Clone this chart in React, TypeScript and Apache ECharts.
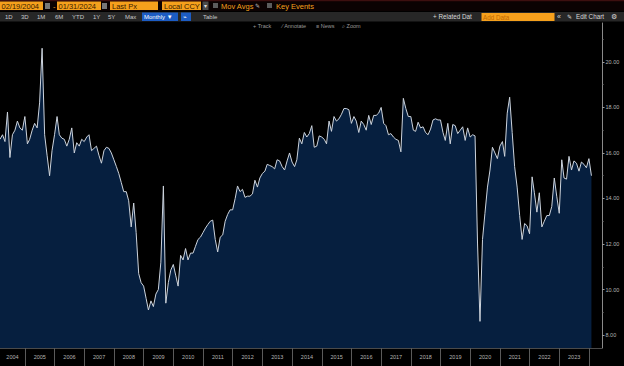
import React, { useEffect, useRef } from "react";
import * as echarts from "echarts";

// Monthly series, first point = Feb 2004, last point = Jan 2024
const startYear = 2004;
const startMonthIndex = 1; // 0-based: 1 = February
const values2004 = [16.6, 16.8, 16.5, 17.8, 15.8, 16.8, 17.0, 17.4, 17.1, 17.0, 17.6];
const values2005 = [16.4, 16.6, 17.0, 17.3, 17.1, 18.2, 20.6, 16.8, 15.9, 15.0, 16.1, 16.8];
const values2006 = [17.6, 16.8, 16.65, 16.6, 16.3, 16.6, 17.1, 16.0, 16.45, 16.3, 16.6, 16.5];
const values2007 = [16.7, 16.8, 16.1, 16.2, 16.3, 15.9, 15.55, 16.1, 16.25, 16.2, 16.0, 15.7];
const values2008 = [15.4, 15.1, 14.7, 14.3, 14.3, 13.9, 12.75, 13.8, 12.5, 10.7, 10.3, 10.15];
const values2009 = [9.6, 9.1, 9.5, 9.25, 9.8, 10.0, 11.2, 14.55, 9.4, 10.3, 10.85, 11.1];
const values2010 = [10.6, 10.15, 11.5, 11.3, 11.8, 11.3, 11.6, 11.6, 11.9, 12.2, 12.3, 12.5];
const values2011 = [12.7, 12.85, 13.0, 13.05, 12.2, 11.65, 12.3, 12.4, 13.0, 13.3, 13.5, 13.5];
const values2012 = [14.0, 14.55, 14.3, 14.4, 14.05, 14.1, 14.1, 14.2, 14.8, 14.5, 14.9, 15.1];
const values2013 = [15.2, 15.5, 15.45, 15.4, 15.3, 15.7, 15.65, 15.4, 15.25, 15.65, 16.0, 15.6];
const values2014 = [15.4, 15.7, 16.65, 16.4, 16.9, 16.7, 16.85, 17.2, 16.25, 16.3, 16.75, 16.7];
const values2015 = [16.6, 16.4, 17.4, 16.95, 17.6, 17.4, 17.5, 17.7, 17.95, 17.95, 17.9, 17.3];
const values2016 = [17.6, 17.4, 16.9, 17.4, 17.25, 17.0, 17.65, 17.25, 17.65, 17.65, 17.75, 18.0];
const values2017 = [17.3, 17.2, 16.8, 16.85, 16.7, 16.6, 16.55, 16.05, 18.4, 17.95, 17.6, 17.6];
const values2018 = [17.0, 16.95, 17.35, 17.1, 17.15, 16.9, 16.8, 17.05, 17.45, 17.5, 17.45, 17.45];
const values2019 = [16.9, 16.55, 17.3, 16.4, 17.25, 17.2, 16.85, 17.0, 17.15, 16.55, 17.1, 16.7];
const values2020 = [16.8, 16.75, 12.0, 8.6, 12.2, 13.35, 14.5, 15.25, 16.25, 16.0, 15.75, 16.3];
const values2021 = [16.5, 15.85, 17.75, 18.45, 16.9, 15.4, 14.5, 13.25, 12.2, 12.9, 12.8, 12.45];
const values2022 = [14.95, 14.25, 13.4, 14.25, 12.75, 13.0, 13.25, 13.25, 13.65, 14.9, 14.1, 13.35];
const values2023 = [15.7, 14.9, 14.85, 15.85, 15.25, 15.65, 15.55, 15.2, 15.6, 15.5, 15.35, 15.75];
const values2024 = [15.0];

const allValues = [
  ...values2004, ...values2005, ...values2006, ...values2007, ...values2008,
  ...values2009, ...values2010, ...values2011, ...values2012, ...values2013,
  ...values2014, ...values2015, ...values2016, ...values2017, ...values2018,
  ...values2019, ...values2020, ...values2021, ...values2022, ...values2023,
  ...values2024,
];

const yearLabels = [2004, 2005, 2006, 2007, 2008, 2009, 2010, 2011, 2012, 2013, 2014, 2015, 2016, 2017, 2018, 2019, 2020, 2021, 2022, 2023];
const yMajorTicks = [8, 10, 12, 14, 16, 18, 20];
const yMinorTicks = [9, 11, 13, 15, 17, 19, 21];

const X_MIN = Date.UTC(2004, 1, 29);
const X_MAX = Date.UTC(2024, 5, 9);
const Y_MIN = 7.43;
const Y_MAX = 21.71;

const seriesData = allValues.map((v, k) => {
  const m = startMonthIndex + k;
  const t = Date.UTC(startYear, m + 1, 0); // month end
  return [t, v];
});

const yearStarts = yearLabels.map((y) => Date.UTC(y + 1, 0, 1));
const yearMids = yearLabels.map((y) => {
  const a = Math.max(Date.UTC(y, 0, 1), X_MIN);
  const b = Math.min(Date.UTC(y + 1, 0, 1), X_MAX);
  return (a + b) / 2;
});

const ORANGE = "#f5a01c";
const BOXTEXT = "#3b1c00";
const FONT = "Liberation Sans";

function txt(text: string, x: number, y: number, fill: string, size: number, extra: any = {}) {
  return {
    type: "text",
    x,
    y,
    silent: true,
    style: { text, fill, fontSize: size, fontFamily: FONT, verticalAlign: "middle", align: "left", ...extra },
  };
}
function box(x: number, y: number, w: number, h: number, fill: string) {
  return { type: "rect", silent: true, shape: { x, y, width: w, height: h }, style: { fill } };
}

const headerGraphics = [
  box(0, 0, 624, 11, "#0b0202"),
  box(0, 0, 624, 1.2, "#3d0f0f"),
  box(0, 1.5, 43, 8.5, ORANGE),
  txt("02/19/2004", 1.5, 6, BOXTEXT, 7.5),
  box(45, 3, 5, 6, "#777777"),
  txt("-", 53, 6, ORANGE, 7.5),
  box(57, 1.5, 44, 8.5, ORANGE),
  txt("01/31/2024", 58.5, 6, BOXTEXT, 7.5),
  box(102, 3, 5, 6, "#777777"),
  box(110, 1.5, 48, 8.5, ORANGE),
  txt("Last Px", 112, 6, BOXTEXT, 7.5),
  box(162, 1.5, 39, 8.5, ORANGE),
  txt("Local CCY", 164, 6, BOXTEXT, 7.5),
  box(202.5, 1.5, 6, 8.5, "#4a4a4a"),
  txt("▾", 203.5, 6, "#dddddd", 6),
  box(213, 3, 5, 5, "#5c5c5c"),
  txt("Mov Avgs", 221, 6, ORANGE, 7.5),
  txt("✎", 255, 6, "#bbbbbb", 6),
  box(267, 3, 5, 5, "#5c5c5c"),
  txt("Key Events", 276, 6, ORANGE, 7.5),

  box(0, 12, 624, 9.5, "#272727"),
  txt("1D", 5, 16.8, "#c8c8c8", 6),
  txt("3D", 21, 16.8, "#c8c8c8", 6),
  txt("1M", 37, 16.8, "#c8c8c8", 6),
  txt("6M", 55, 16.8, "#c8c8c8", 6),
  txt("YTD", 72, 16.8, "#c8c8c8", 6),
  txt("1Y", 93, 16.8, "#c8c8c8", 6),
  txt("5Y", 108, 16.8, "#c8c8c8", 6),
  txt("Max", 125, 16.8, "#c8c8c8", 6),
  box(142, 12.5, 36, 8.5, "#1c5cc4"),
  txt("Monthly ▼", 144, 16.8, "#ffffff", 6),
  box(181, 12.5, 10, 8.5, "#1c5cc4"),
  txt("⌁", 183, 16.8, "#ffffff", 6),
  txt("Table", 203, 16.8, "#c8c8c8", 6),
  txt("+ Related Dat", 433, 16.8, "#d8d8d8", 6.3),
  box(481.5, 13, 73, 8, ORANGE),
  txt("Add Data", 483, 17, "#c06800", 6.3),
  txt("«", 557, 16.5, "#d8d8d8", 7),
  txt("✎", 567, 16.8, "#d8d8d8", 6.3),
  txt("Edit Chart", 576, 16.8, "#d8d8d8", 6.3),
  txt("⚙", 611, 16.8, "#d8d8d8", 7),

  txt("+ Track", 253, 26, "#9a9a9a", 5.5),
  txt("⁄ Annotate", 282, 26, "#9a9a9a", 5.5),
  txt("≡ News", 316, 26, "#9a9a9a", 5.5),
  txt("⌕ Zoom", 342, 26, "#9a9a9a", 5.5),
];

export default function App() {
  const ref = useRef<HTMLDivElement>(null);
  useEffect(() => {
    if (!ref.current) return;
    const chart = echarts.init(ref.current, null, { renderer: "svg" });
    chart.setOption({
      animation: false,
      backgroundColor: "#000000",
      grid: { left: 0, right: 22, top: 23, bottom: 18, containLabel: false },
      xAxis: {
        type: "value",
        min: X_MIN,
        max: X_MAX,
        axisLine: { show: true, lineStyle: { color: "#4a4a4a", width: 1 } },
        axisTick: {
          show: true,
          customValues: yearStarts,
          length: 18,
          lineStyle: { color: "#5a5a5a", width: 1 },
        },
        axisLabel: {
          show: true,
          customValues: yearMids,
          formatter: (v: number) => String(new Date(v).getUTCFullYear()),
          color: "#b4b4b4",
          fontSize: 5.5,
          fontFamily: FONT,
          margin: 6,
          hideOverlap: false,
        },
        splitLine: { show: false },
      },
      yAxis: [
        {
          type: "value",
          position: "right",
          min: Y_MIN,
          max: Y_MAX,
          axisLine: { show: true, lineStyle: { color: "#8a8a8a", width: 1 } },
          axisTick: { show: true, customValues: yMajorTicks, length: 2.5, lineStyle: { color: "#9a9a9a" } },
          axisLabel: {
            show: true,
            customValues: yMajorTicks,
            formatter: (v: number) => v.toFixed(2),
            color: "#b4b4b4",
            fontSize: 5.5,
            fontFamily: FONT,
            margin: 3.5,
          },
          splitLine: { show: false },
        },
        {
          type: "value",
          position: "right",
          min: Y_MIN,
          max: Y_MAX,
          axisLine: { show: false },
          axisTick: { show: true, customValues: yMinorTicks, length: 1.5, lineStyle: { color: "#7a7a7a" } },
          axisLabel: { show: false },
          splitLine: { show: false },
        },
      ],
      graphic: headerGraphics,
      series: [
        {
          type: "line",
          data: seriesData,
          yAxisIndex: 0,
          symbol: "none",
          showSymbol: false,
          lineStyle: { color: "#cdd4dd", width: 1 },
          areaStyle: { color: "#061f3f", opacity: 1, origin: "start" },
          silent: true,
        },
      ],
    });
    return () => chart.dispose();
  }, []);
  return (
    <div
      ref={ref}
      style={{ position: "fixed", left: 0, top: 0, width: 624, height: 366, background: "#000" }}
    />
  );
}
